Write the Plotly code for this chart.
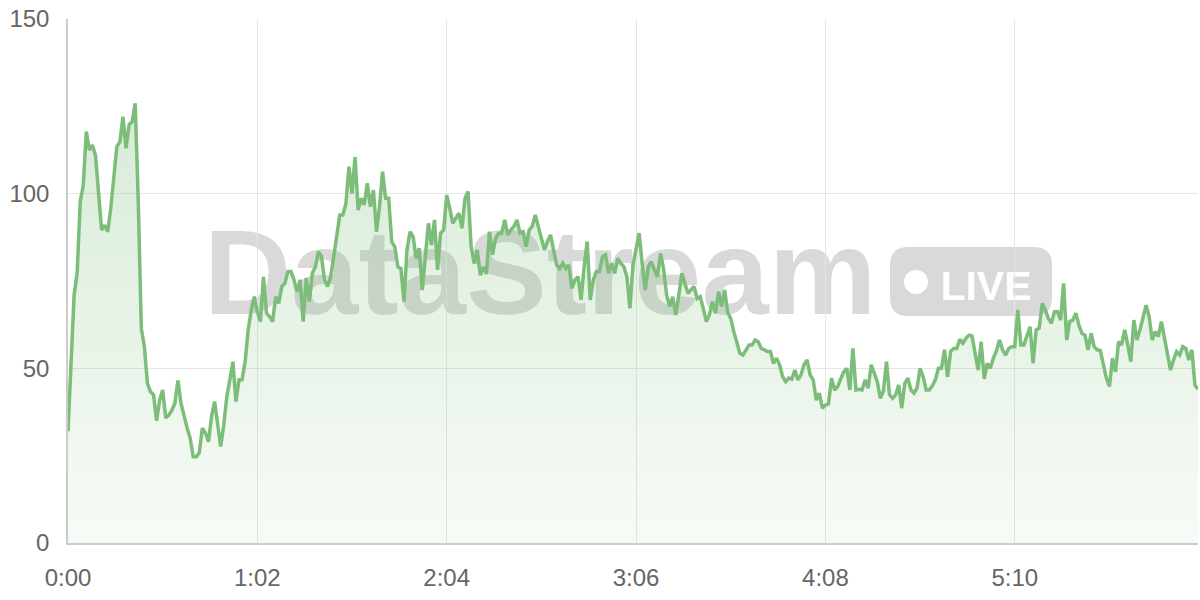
import plotly.graph_objects as go

# ---- data -------------------------------------------------------------
values = [
    32, 51, 71, 77.3, 97.7, 102.4, 117.8, 112.5, 113.9, 111,
    99.1, 89.6, 91, 89.1, 95.8, 105.4, 113.5, 114.9, 122, 113,
    119.7, 120.6, 125.9, 98, 61.5, 56.2, 45.8, 43.3, 42.4, 35,
    40.9, 43.8, 35.8, 36.6, 38, 40, 46.5, 40, 36.2, 32.9,
    30, 24.7, 24.7, 25.9, 32.9, 31.5, 29, 36.2, 40.5, 33.3,
    27.6, 33.8, 41.9, 46.7, 51.9, 40.5, 46.7, 46.7, 51.9, 61,
    66.7, 70.5, 66.2, 63.4, 76.2, 65.8, 64.8, 63.4, 70.5, 68.6,
    73.4, 74.3, 77.7, 77.7, 75.3, 71.9, 75.3, 63.4, 75.8, 69.1,
    77.2, 79.1, 83.4, 82, 75.3, 73.4, 76.2, 82, 87.7, 93.9,
    93.9, 97.2, 107.7, 100, 110.5, 95.3, 98.7, 96.8, 103, 96.3,
    101, 89.1, 96.3, 106.3, 98.7, 98.7, 86.3, 84.8, 79.1, 78.6,
    69.1, 83.9, 89.1, 87.7, 81.5, 84.4, 72.4, 83.4, 91.5, 85.3,
    92.5, 78.2, 88.7, 89.6, 99.6, 95.8, 91.5, 93, 94.4, 90.1,
    98.7, 100.6, 84.8, 80, 83.9, 76.7, 79, 77, 89.1, 82.5,
    87.2, 88.7, 88.7, 92.5, 88.2, 89.6, 90.6, 92.5, 88.7, 89.1,
    84.8, 89.6, 90.6, 93.9, 90.6, 86.7, 83.9, 86.3, 88.2, 83.9,
    79.6, 78.6, 80.1, 78.6, 79.6, 72.9, 75.3, 76.2, 69.6, 79.1,
    86.3, 69.6, 75.3, 77.7, 77.7, 82, 82.5, 77.2, 80.1, 77.2,
    81.5, 80.1, 79.1, 76.2, 67.2, 79.6, 83.9, 88.7, 80.1, 72.4,
    79.1, 80.5, 78.2, 76.2, 82.9, 78.6, 71, 67.7, 70.5, 65.3,
    71, 77.2, 74.3, 71.5, 72.5, 73.4, 70, 70.5, 67.2, 63.4,
    65.3, 69.1, 65.8, 71.9, 67.7, 72.4, 66, 64.3, 60.5, 57.2,
    54.3, 53.8, 55.3, 56.7, 56.7, 58.1, 57.6, 55.7, 55.3, 54.8,
    54.8, 51.4, 52.9, 51, 47.6, 46.2, 47.2, 46.9, 49.5, 46.7,
    48.1, 51, 52.4, 48.1, 46.7, 40.9, 42.9, 38.6, 39.5, 39.8,
    47.2, 43.8, 44.8, 46.7, 49, 50, 43.8, 55.7, 43.8, 44,
    43.8, 46.7, 44.3, 51, 48.6, 46.2, 41.4, 43.5, 51.9, 42.4,
    41.4, 42.4, 45.2, 38.6, 45.7, 47.2, 43.8, 42.9, 44.3, 50,
    47.6, 43.8, 43.8, 45, 46.7, 50, 50, 55.3, 47.6, 54.8,
    55.7, 55.7, 58.3, 57.2, 58.6, 59.5, 59.3, 54.3, 49.5, 57.6,
    47, 51.4, 50, 52.9, 55, 58.1, 55.3, 53.8, 55.7, 56.2,
    56.2, 66.7, 56.7, 56.7, 59.5, 61.9, 51.4, 61, 61.5, 68.6,
    66.7, 64.3, 62.9, 66.2, 66.2, 63.8, 74.3, 58.1, 63.4, 63.8,
    65.8, 62.4, 60, 59.5, 55.3, 60, 56.2, 55.3, 55.1, 51.4,
    47.2, 44.8, 52.9, 49, 57.6, 56.7, 61, 56.7, 51.9, 63.8,
    58.1, 61, 64.8, 68.1, 64.8, 58.1, 60.5, 59.1, 63.4, 58.6,
    54.8, 49.5, 52.4, 54.8, 53.8, 56.2, 55.7, 52.4, 55.3, 45.2,
    44,
]
tick_positions = [0, 62, 124, 186, 248, 310]
tick_labels = ["0:00", "1:02", "2:04", "3:06", "4:08", "5:10"]
y_ticks = [0, 50, 100, 150]

x = list(range(len(values)))

# ---- layout geometry (pixels) ----------------------------------------
W, H = 1200, 600
L, R, T, B = 68, 2, 19, 57
PW, PH = W - L - R, H - T - B


def px(xp):
    return (xp - L) / PW


def py(yp):
    return (H - B - yp) / PH


LINE = "rgb(124,189,121)"

fig = go.Figure()
fig.add_trace(go.Scatter(
    x=x, y=values, mode="lines",
    line=dict(color=LINE, width=3.5),
    fill="tozeroy",
    fillgradient=dict(
        type="vertical", start=0, stop=125,
        colorscale=[[0, "rgba(124,189,121,0.06)"], [1, "rgba(124,189,121,0.30)"]],
    ),
    hoverinfo="skip", showlegend=False,
))

WM = "rgba(0,0,0,0.15)"
shapes = [
    dict(type="rect", xref="paper", yref="paper", layer="below",
         x0=px(200), x1=px(880), y0=py(307), y1=py(215),
         line=dict(width=0), fillcolor="rgba(0,0,0,0)",
         label=dict(text="DataStream", textposition="middle center",
                    font=dict(family="Liberation Sans", size=121, color=WM, weight="bold"))),
]
# rounded badge
x0, x1, y0, y1 = px(890), px(1052), py(316), py(247)
rx, ry = 18 / PW, 18 / PH
path = (f"M {x0+rx},{y0} L {x1-rx},{y0} Q {x1},{y0} {x1},{y0+ry} "
        f"L {x1},{y1-ry} Q {x1},{y1} {x1-rx},{y1} L {x0+rx},{y1} "
        f"Q {x0},{y1} {x0},{y1-ry} L {x0},{y0+ry} Q {x0},{y0} {x0+rx},{y0} Z")
shapes.append(dict(type="path", xref="paper", yref="paper", layer="below",
                   path=path, line=dict(width=0), fillcolor=WM))
shapes.append(dict(type="circle", xref="paper", yref="paper", layer="below",
                   x0=px(904), x1=px(928), y0=py(294), y1=py(270),
                   line=dict(width=0), fillcolor="white"))
shapes.append(dict(type="rect", xref="paper", yref="paper", layer="below",
                   x0=px(936), x1=px(1036), y0=py(300), y1=py(264),
                   line=dict(width=0), fillcolor="rgba(0,0,0,0)",
                   label=dict(text="LIVE", textposition="middle center",
                              font=dict(family="Liberation Sans", size=41, color="white", weight="bold"))))

fig.update_layout(
    width=W, height=H,
    margin=dict(l=L, r=R, t=T, b=B, pad=0),
    paper_bgcolor="white", plot_bgcolor="rgba(0,0,0,0)",
    shapes=shapes,
    font=dict(family="Liberation Sans", size=24, color="#666666"),
    xaxis=dict(
        range=[0, len(values) - 1], tickmode="array",
        tickvals=tick_positions, ticktext=tick_labels,
        showgrid=True, gridcolor="#e6e6e6", gridwidth=1,
        showline=True, linecolor="#cccccc", linewidth=1.5,
        zeroline=False, ticks="", ticklabelstandoff=12,
        automargin=False,
    ),
    yaxis=dict(
        range=[0, 150], tickmode="array", tickvals=y_ticks,
        showgrid=True, gridcolor="#e6e6e6", gridwidth=1,
        showline=True, linecolor="#cccccc", linewidth=1.5,
        zeroline=False, ticks="", ticklabelstandoff=12,
        automargin=False,
    ),
)

fig.write_html("out.html", config={"displayModeBar": False})

# remove the default page margin so the 1200x600 figure fills the window
with open("out.html", "r", encoding="utf-8") as f:
    html = f.read()
html = html.replace("<head>", "<head><style>html,body{margin:0;padding:0;overflow:hidden;}</style>", 1)
with open("out.html", "w", encoding="utf-8") as f:
    f.write(html)
